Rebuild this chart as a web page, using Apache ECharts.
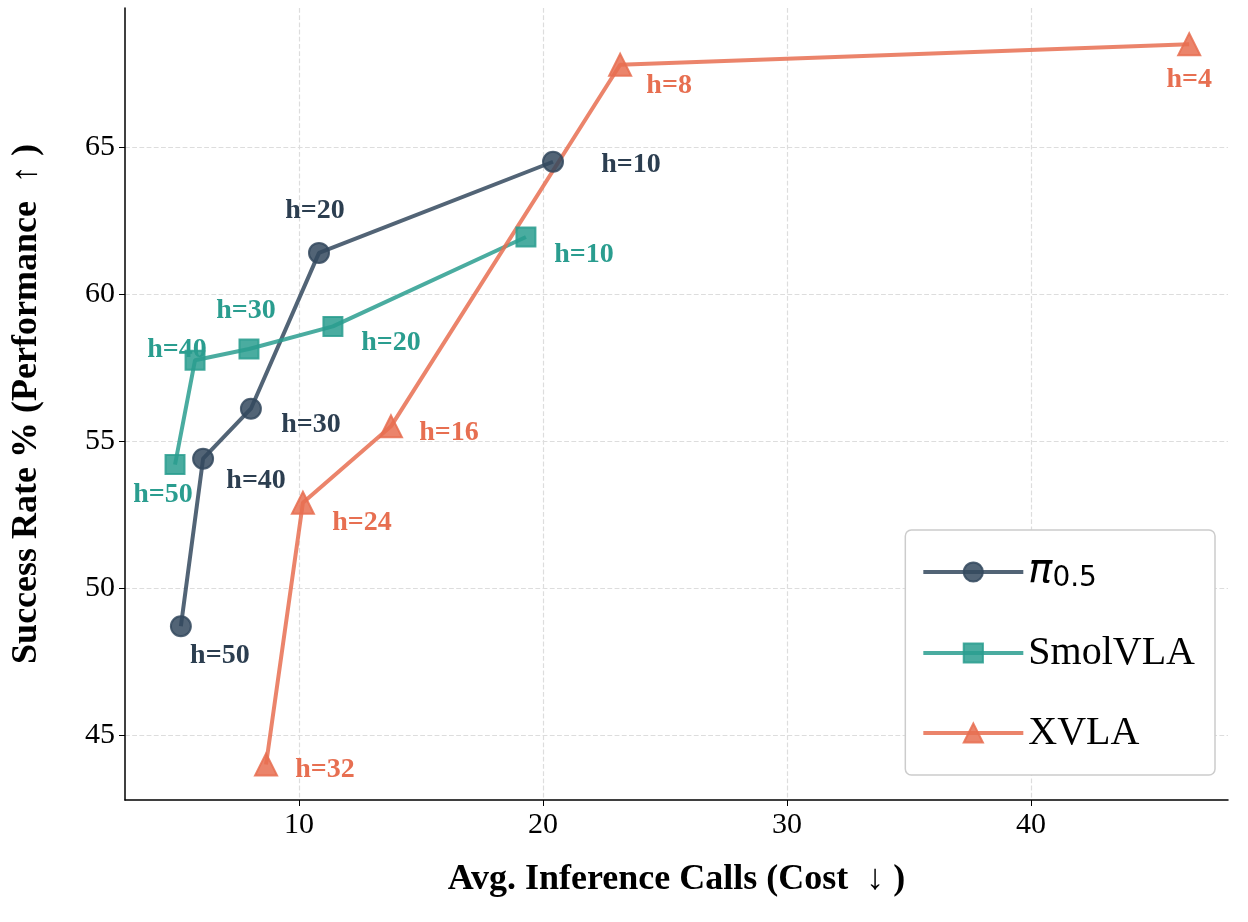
<!DOCTYPE html>
<html><head><meta charset="utf-8">
<script src="https://cdn.jsdelivr.net/npm/echarts@6/dist/echarts.min.js"></script>
<style>html,body{margin:0;padding:0;background:#fff}#c{width:1248px;height:922px}</style>
</head><body><div id="c"></div>
<script>
const piX=[5.16,6.07,8.03,10.82,20.41], piY=[48.7,54.4,56.1,61.4,64.5], piL=['h=50','h=40','h=30','h=20','h=10'];
const smX=[4.92,5.74,7.95,11.39,19.3], smY=[54.2,57.75,58.13,58.9,61.94], smL=['h=50','h=40','h=30','h=20','h=10'];
const xvX=[8.65,10.16,13.77,23.16,46.48], xvY=[44.0,52.9,55.5,67.8,68.5], xvL=['h=32','h=24','h=16','h=8','h=4'];
const yTicks=[45,50,55,60,65], xTicks=[10,20,30,40];
const piOff=[[39,30],[53,22],[60,16],[-4,-42],[78,3]];
const smOff=[[-12,30],[-18,-10],[-3,-38],[58,16],[58,18]];
const xvOff=[[59,5],[59,20],[58,6],[49,21],[0,36]];
const C={pi:'#34495e',sm:'#2a9d8f',xv:'#e76f51'};
const LC={pi:'#2c3e50',sm:'#2a9d8f',xv:'#e76f51'};
const serif='Liberation Serif';
function mk(xs,ys,ls,offs,col){return xs.map((x,i)=>({value:[x,ys[i]],label:{show:true,formatter:ls[i],position:'inside',offset:offs[i],color:col,opacity:1,fontFamily:serif,fontWeight:'bold',fontSize:28}}));}
function ser(name,xs,ys,ls,offs,col,lc,sym,sz){return {name,type:'line',data:mk(xs,ys,ls,offs,lc),symbol:sym,symbolSize:sz,showAllSymbol:true,
 lineStyle:{color:col,width:4,opacity:0.85},itemStyle:{color:col,opacity:0.85,borderColor:col,borderWidth:2},z:3};}
const chart=echarts.init(document.getElementById('c'));
chart.setOption({
 animation:false,
 grid:{left:125,right:20,top:8,bottom:122},
 xAxis:{type:'value',min:2.87,max:48.07,
  name:'Avg. Inference Calls (Cost  ↓ )',nameLocation:'middle',nameGap:62,
  nameTextStyle:{fontFamily:serif,fontWeight:'bold',fontSize:36,color:'#000'},
  axisLine:{lineStyle:{color:'#000',width:1.5}},
  axisTick:{customValues:xTicks,length:6,lineStyle:{color:'#000'}},
  axisLabel:{customValues:xTicks,fontFamily:serif,fontSize:30,color:'#000',margin:10},
  splitLine:{show:true,lineStyle:{type:'dashed',color:'#ddd',width:1.2}}},
 yAxis:{type:'value',min:42.79,max:69.73,
  name:'Success Rate % (Performance  ↑ )',nameLocation:'middle',nameGap:80,
  nameTextStyle:{fontFamily:serif,fontWeight:'bold',fontSize:36,color:'#000'},
  axisLine:{show:true,lineStyle:{color:'#000',width:1.5}},
  axisTick:{show:true,customValues:yTicks,length:6,lineStyle:{color:'#000'}},
  axisLabel:{customValues:yTicks,fontFamily:serif,fontSize:30,color:'#000',margin:10},
  splitLine:{show:true,lineStyle:{type:'dashed',color:'#ddd',width:1.2}}},
 legend:{right:33,bottom:147,orient:'vertical',itemWidth:100,itemHeight:24,itemGap:40,
  padding:[22,20,22,16],borderColor:'#ccc',borderWidth:1.5,borderRadius:6,backgroundColor:'#fff',
  lineStyle:{width:4},
  textStyle:{fontFamily:serif,fontSize:40,color:'#000',rich:{pi:{fontFamily:'DejaVu Sans',fontStyle:'italic',fontSize:40},sub:{fontFamily:'DejaVu Sans',fontSize:28,padding:[14,0,0,0]}}},
  formatter:n=>n==='pi'?'{pi|π}{sub|0.5}':n,
  data:['pi','SmolVLA','XVLA']},
 series:[
  ser('pi',piX,piY,piL,piOff,C.pi,LC.pi,'circle',20),
  ser('SmolVLA',smX,smY,smL,smOff,C.sm,LC.sm,'rect',19),
  ser('XVLA',xvX,xvY,xvL,xvOff,C.xv,LC.xv,'triangle',22)]
});
</script></body></html>
